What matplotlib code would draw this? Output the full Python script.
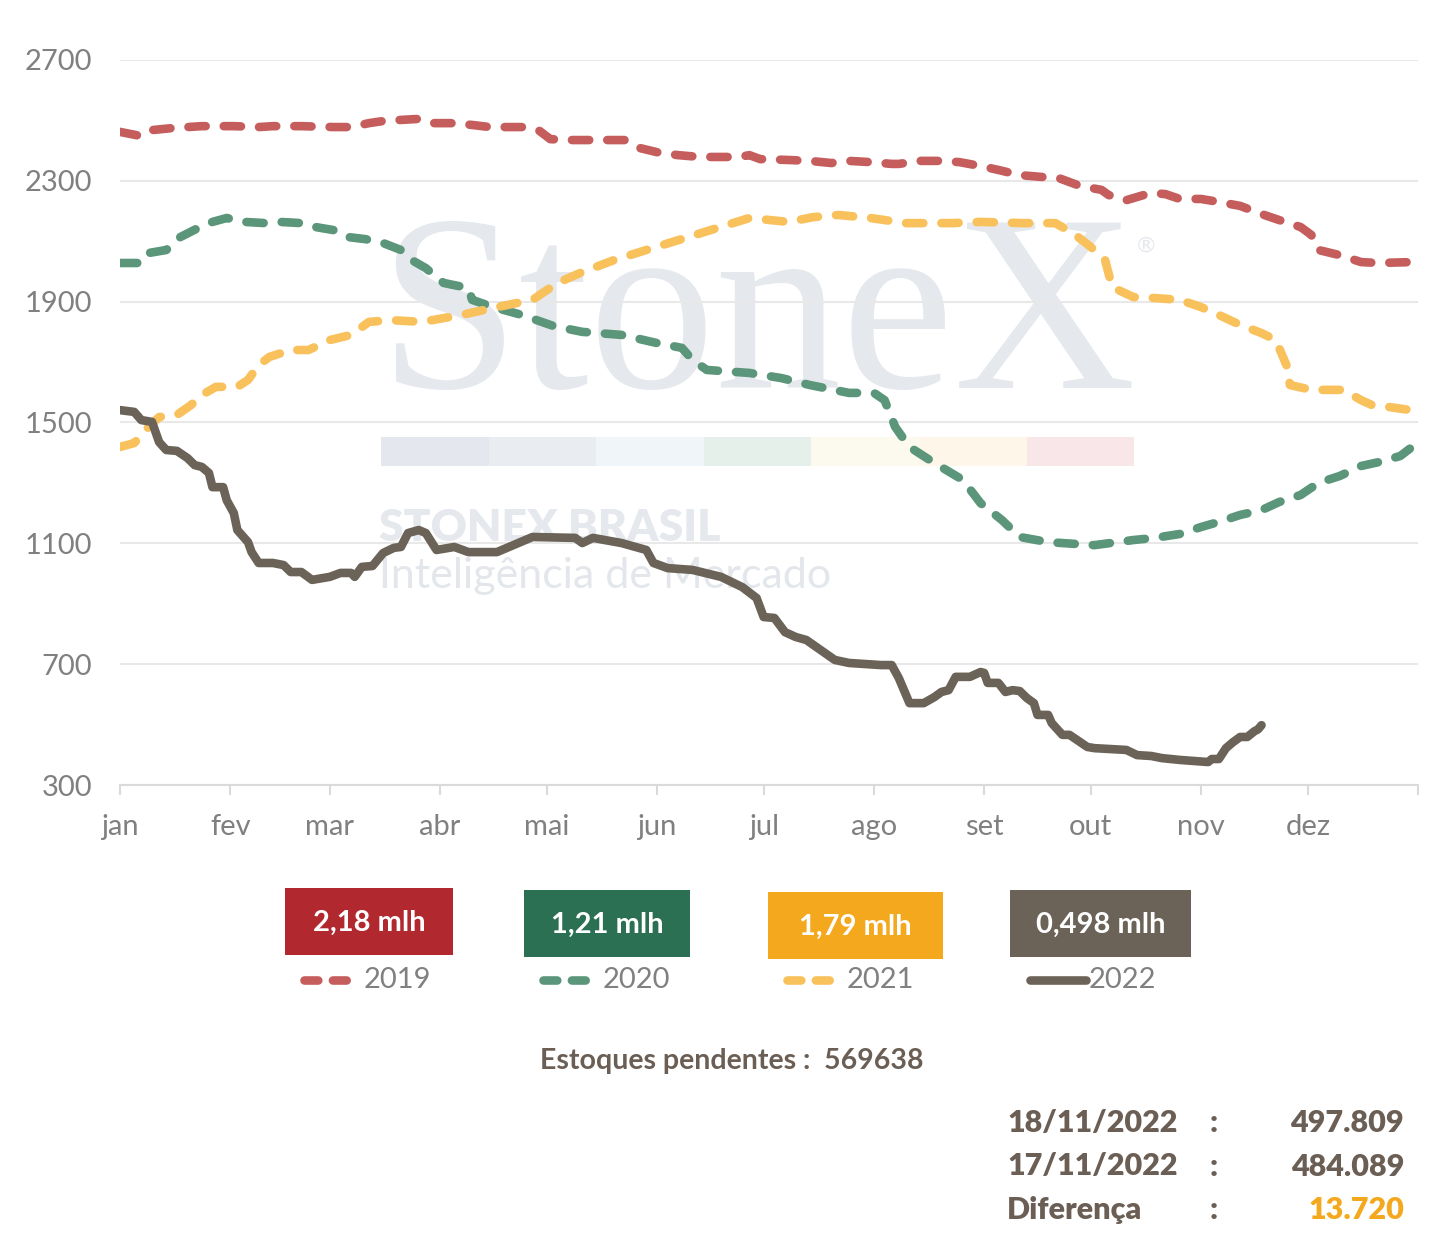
import matplotlib.pyplot as plt
from matplotlib.lines import Line2D
from matplotlib.patches import Rectangle

# dias do ano e estoques (mil sacas)
d2019 = [0, 6, 9, 15, 23, 32, 39, 43, 51, 60, 65, 70, 74, 78, 84, 88, 93, 99, 104, 114, 118, 121, 127, 135, 142,
         146, 152, 157, 163, 174, 177, 180, 188, 194, 200, 205, 211, 217, 219, 225, 231, 236, 242, 247, 253, 259,
         264, 270, 276, 278, 283, 287, 290, 294, 298, 304, 309, 315, 321, 326, 332, 335, 337, 343, 349, 354, 363]
v2019 = [2462, 2448, 2468, 2475, 2481, 2481, 2478, 2481, 2481, 2478, 2478, 2491, 2498, 2501, 2505, 2491, 2491,
         2485, 2478, 2478, 2465, 2438, 2435, 2435, 2435, 2409, 2392, 2385, 2379, 2379, 2385, 2372, 2369, 2366,
         2359, 2366, 2362, 2356, 2356, 2366, 2366, 2362, 2349, 2336, 2319, 2313, 2309, 2283, 2270, 2253, 2236,
         2250, 2260, 2256, 2240, 2240, 2230, 2217, 2190, 2170, 2147, 2121, 2071, 2054, 2031, 2028, 2031]

d2020 = [0, 6, 8, 13, 17, 22, 26, 30, 35, 41, 45, 51, 55, 60, 64, 69, 74, 79, 82, 86, 91, 98, 99, 105, 113, 122,
         130, 141, 151, 158, 161, 165, 177, 186, 194, 205, 212, 215, 218, 222, 229, 237, 242, 248, 253, 261, 274,
         285, 291, 298, 304, 309, 315, 321, 326, 332, 337, 343, 349, 354, 360, 363]
v2020 = [2028, 2028, 2061, 2071, 2114, 2144, 2164, 2177, 2164, 2160, 2164, 2160, 2147, 2137, 2114, 2107, 2094,
         2071, 2038, 2011, 1962, 1945, 1906, 1882, 1856, 1819, 1800, 1790, 1763, 1747, 1707, 1674, 1664, 1647,
         1624, 1598, 1598, 1574, 1485, 1419, 1366, 1310, 1233, 1177, 1121, 1104, 1094, 1111, 1118, 1131, 1154,
         1171, 1194, 1210, 1237, 1260, 1300, 1323, 1356, 1369, 1389, 1416]

d2021 = [0, 4, 8, 11, 16, 20, 23, 27, 33, 36, 39, 42, 48, 53, 59, 65, 70, 76, 85, 96, 106, 116, 123, 130, 139, 148,
         159, 168, 177, 188, 195, 202, 211, 221, 234, 242, 254, 263, 268, 273, 277, 279, 285, 291, 298, 304, 309,
         315, 321, 325, 328, 329, 335, 340, 344, 349, 352, 357, 363]
v2021 = [1419, 1432, 1485, 1518, 1525, 1558, 1591, 1618, 1618, 1641, 1690, 1717, 1740, 1740, 1773, 1790, 1833,
         1839, 1833, 1856, 1882, 1906, 1962, 1998, 2038, 2071, 2111, 2144, 2177, 2164, 2180, 2187, 2177, 2160,
         2160, 2164, 2160, 2160, 2127, 2081, 2038, 1948, 1915, 1912, 1906, 1882, 1856, 1823, 1796, 1773, 1690,
         1624, 1608, 1608, 1608, 1574, 1558, 1551, 1541]

d2022 = [0, 4, 6, 9, 11, 13, 16, 19, 21, 23, 25, 26, 29, 30, 32, 33, 36, 37, 39, 43, 46, 48, 51, 54, 59, 62, 65,
         66, 68, 71, 74, 77, 79, 81, 84, 86, 89, 94, 98, 106, 112, 116, 128, 130, 133, 141, 148, 150, 154, 161,
         169, 175, 179, 181, 184, 187, 190, 193, 197, 201, 205, 214, 217, 219, 222, 226, 229, 231, 233, 235, 239,
         242, 243, 244, 247, 249, 251, 253, 255, 257, 258, 261, 262, 265, 267, 270, 272, 274, 283, 286, 290, 293,
         298, 306, 307, 309, 311, 313, 315, 317, 319, 320, 321]
v2022 = [1541, 1535, 1508, 1502, 1435, 1409, 1406, 1382, 1359, 1353, 1333, 1286, 1286, 1243, 1200, 1144, 1104,
         1071, 1035, 1035, 1028, 1005, 1005, 979, 989, 1002, 1002, 989, 1022, 1025, 1068, 1085, 1088, 1134, 1144,
         1134, 1078, 1088, 1071, 1071, 1101, 1121, 1118, 1101, 1118, 1101, 1078, 1035, 1018, 1012, 989, 955, 919,
         856, 853, 806, 790, 780, 747, 714, 704, 697, 697, 654, 571, 571, 591, 608, 614, 658, 658, 674, 671, 638,
         638, 608, 614, 611, 588, 571, 532, 532, 505, 466, 466, 442, 426, 422, 416, 399, 396, 389, 383, 376, 386,
         386, 422, 442, 459, 459, 478, 484, 498]

mes_ini = [0, 31, 59, 90, 120, 151, 181, 212, 243, 273, 304, 334, 365]
meses = ['jan', 'fev', 'mar', 'abr', 'mai', 'jun', 'jul', 'ago', 'set', 'out', 'nov', 'dez', '']
y_ticks = [300, 700, 1100, 1500, 1900, 2300, 2700]

anos = ['2019', '2020', '2021', '2022']
caixas = ['2,18 mlh', '1,21 mlh', '1,79 mlh', '0,498 mlh']
cor_linha = ['#c65d5d', '#5b967a', '#f9c15c', '#6b6358']
cor_caixa = ['#b1292f', '#2b7052', '#f4a81d', '#6b6358']

W, H = 1436, 1236
plt.rcParams['font.family'] = ['Lato', 'DejaVu Sans']
fig = plt.figure(figsize=(W / 100, H / 100), dpi=100)


def fx(x):
    return x / W


def fy(y):
    return 1 - y / H


ax = fig.add_axes([fx(120), fy(785), fx(1418) - fx(120), fy(60) - fy(785)])
ax.set_xlim(0, 365)
ax.set_ylim(300, 2700)

# marca d'agua
tf = fig.transFigure
wm = '#e5e8ed'
ax.text(fx(378), fy(388), 'StoneX', transform=tf, family='Liberation Serif', fontsize=182,
        color=wm, ha='left', va='baseline', zorder=0.1)
ax.text(fx(1146), fy(246), '®', transform=tf, fontsize=16, color=wm, ha='center', va='center', zorder=0.1)
faixa = ['#e4e8ee', '#e9edf2', '#f0f5f9', '#e6f0ea', '#fcf9ee', '#fdf6e9', '#f8e6e8']
for i, c in enumerate(faixa):
    x0 = 381 + i * 107.6
    ax.add_patch(Rectangle((fx(x0), fy(466)), fx(107.6), fy(437) - fy(466), transform=tf,
                           facecolor=c, edgecolor='none', zorder=0.1, clip_on=False))
ax.text(fx(379), fy(541), 'STONEX BRASIL', transform=tf, fontsize=32, weight='heavy', color=wm,
        ha='left', va='baseline', zorder=0.1)
ax.text(fx(379), fy(588), 'Inteligência de Mercado', transform=tf, fontsize=31, color='#e3e7ec',
        ha='left', va='baseline', zorder=0.1)

ax.set_axisbelow(True)
ax.grid(axis='y', color='#e8e8e8', lw=1.5)
for s in ['top', 'right', 'left']:
    ax.spines[s].set_visible(False)
ax.spines['bottom'].set_color('#dadada')
ax.spines['bottom'].set_linewidth(1.5)
ax.set_yticks(y_ticks)
ax.set_xticks(mes_ini)
ax.set_xticklabels(meses)
ax.tick_params(axis='y', length=0, pad=20, labelsize=21, labelcolor='#808080')
ax.tick_params(axis='x', length=7, width=1.5, color='#dadada', pad=14, labelsize=21, labelcolor='#808080')

lw = 6.2
tracos = (2.0, 2.1)
series = [(d2019, v2019), (d2020, v2020), (d2021, v2021)]
for (d, v), c in zip(series, cor_linha[:3]):
    ax.plot(d, v, color=c, lw=lw, dashes=tracos, dash_capstyle='round', dash_joinstyle='round', zorder=3)
ax.plot(d2022, v2022, color=cor_linha[3], lw=lw, solid_capstyle='round', solid_joinstyle='round', zorder=4)

# legenda com caixas
caixa_pos = [(285, 453, 888), (524, 690, 890), (768, 943, 892), (1010, 1191, 890)]
for i, (x0, x1, y0) in enumerate(caixa_pos):
    fig.patches.append(Rectangle((fx(x0), fy(y0 + 67)), fx(x1 - x0), fy(y0) - fy(y0 + 67), transform=tf,
                                 facecolor=cor_caixa[i], edgecolor='none'))
    fig.text(fx((x0 + x1) / 2), fy(y0 + 35), caixas[i], fontsize=21, weight='bold', color='white',
             ha='center', va='center')
    lx0 = x0 + 19
    if i < 3:
        ln = Line2D([fx(lx0), fx(lx0 + 56)], [fy(980), fy(980)], transform=tf, color=cor_linha[i], lw=lw,
                    dashes=(1.6, 1.7), dash_capstyle='round')
    else:
        ln = Line2D([fx(lx0 + 1), fx(lx0 + 57)], [fy(980), fy(980)], transform=tf, color=cor_linha[i], lw=lw,
                    solid_capstyle='round')
    fig.add_artist(ln)
    fig.text(fx(lx0 + 60), fy(980), anos[i], fontsize=21, color='#808080', ha='left', va='center')

txt = '#6b5f55'
fig.text(fx(732), fy(1061), 'Estoques pendentes :  569638', fontsize=20.5, weight='bold', color=txt,
         ha='center', va='center')

linhas = [('18/11/2022', '497.809', txt), ('17/11/2022', '484.089', txt), ('Diferença', '13.720', '#f4a81d')]
for k, (a, b, cb) in enumerate(linhas):
    yy = fy(1123 + k * 43.5)
    fig.text(fx(1007), yy, a, fontsize=22, weight='heavy', color=txt, ha='left', va='center')
    fig.text(fx(1214), yy, ':', fontsize=22, weight='heavy', color=txt, ha='center', va='center')
    fig.text(fx(1404), yy, b, fontsize=22, weight='heavy', color=cb, ha='right', va='center')

fig.savefig('out.png', dpi=100, facecolor='white')
